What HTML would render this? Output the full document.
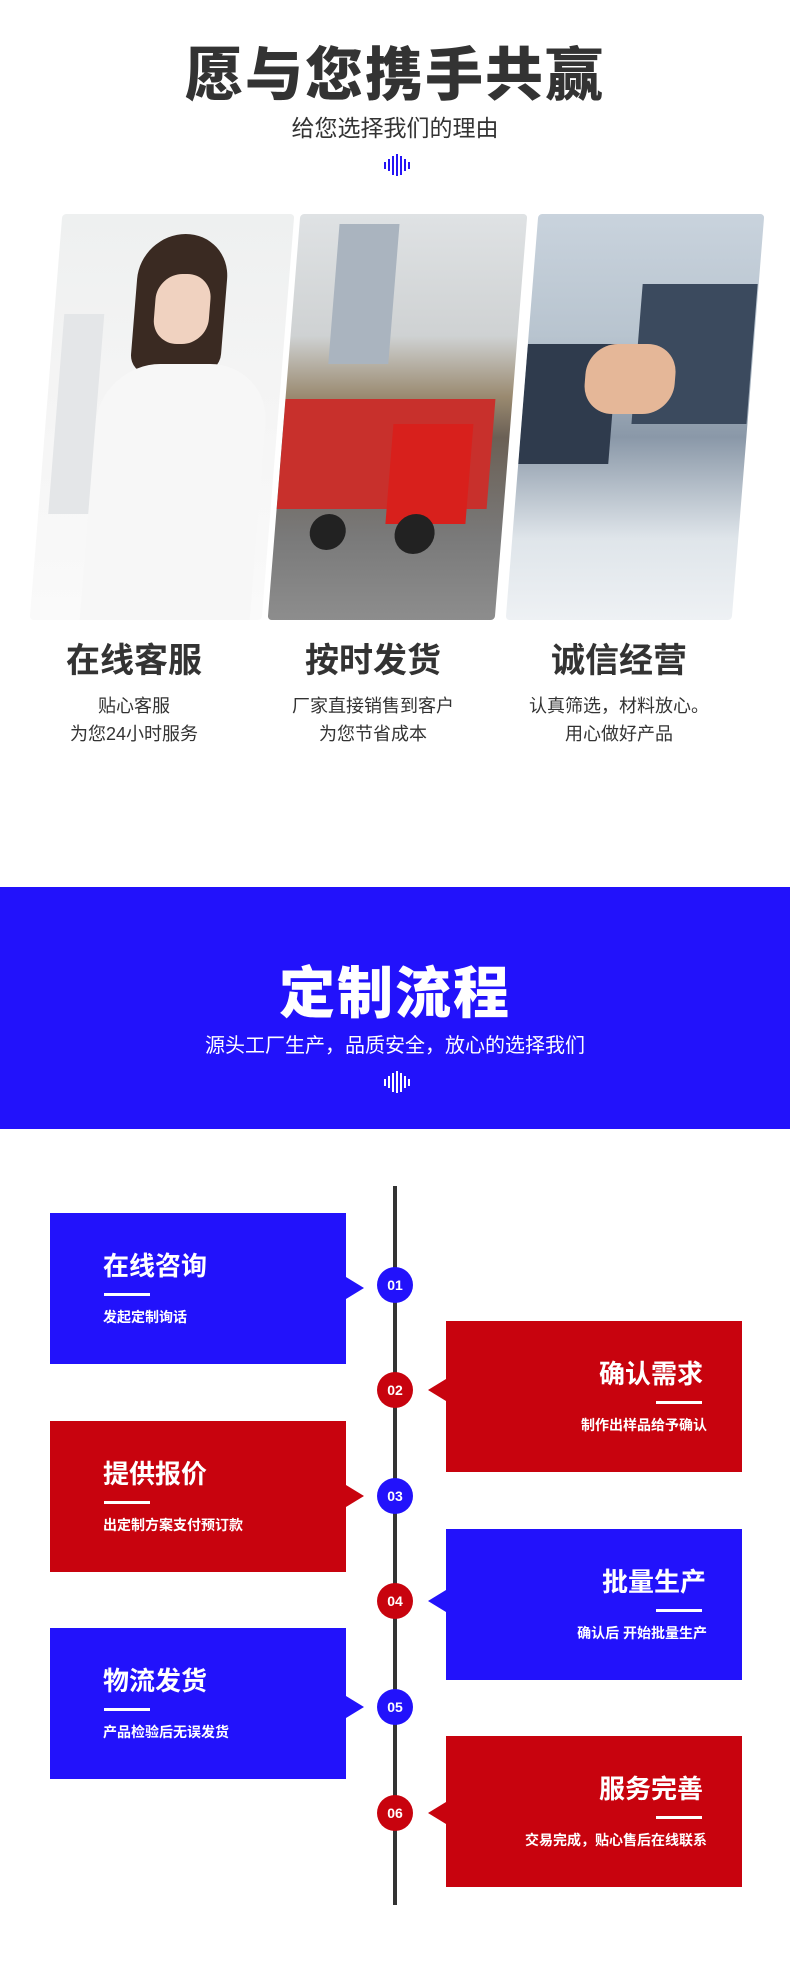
<!DOCTYPE html>
<html><head><meta charset="utf-8"><style>
*{margin:0;padding:0;box-sizing:border-box}
body{width:790px;height:1986px;background:#fff;position:relative;overflow:hidden;font-family:"Liberation Sans","Noto Sans CJK SC",sans-serif}
.a{position:absolute}
.c{text-align:center;white-space:nowrap}
.wave span{position:absolute;width:2px;background:#2515f5}
.img{position:absolute;top:214px;height:406px;transform:skewX(-4.6deg);overflow:hidden;border-radius:4px}
.box{position:absolute;width:296px;height:151px}
.blue{background:#2212fb}.red{background:#c8030e}
.bt{position:absolute;color:#fff;font-weight:bold;font-size:26px;white-space:nowrap;line-height:30px}
.bs{position:absolute;color:#fff;font-weight:bold;font-size:14px;white-space:nowrap;line-height:18px}
.ul{position:absolute;height:3px;width:46px;background:#fff}
.tri{position:absolute;width:0;height:0;border-top:11px solid transparent;border-bottom:11px solid transparent}
.dot{position:absolute;left:377px;width:36px;height:36px;border-radius:50%;color:#fff;font-weight:bold;font-size:14px;line-height:36px;text-align:center}
</style></head><body>
<div class="a c" style="left:0;width:790px;top:44px;font-size:58px;font-weight:900;color:#333;line-height:64px;letter-spacing:2px">愿与您携手共赢</div>
<div class="a c" style="left:0;width:790px;top:114px;font-size:23px;color:#333;line-height:28px">给您选择我们的理由</div>
<div class="wave">
<span style="left:384px;top:162px;height:7px"></span><span style="left:388px;top:159px;height:12px"></span><span style="left:392px;top:156px;height:19px"></span><span style="left:396px;top:154px;height:22px"></span><span style="left:400px;top:156px;height:19px"></span><span style="left:404px;top:159px;height:12px"></span><span style="left:408px;top:162px;height:7px"></span>
</div>
<div class="img" style="left:46px;width:232px;background:linear-gradient(180deg,#eef0f0,#f4f4f4 40%,#fafafa)">
 <div class="a" style="left:80px;top:20px;width:90px;height:140px;border-radius:45px 45px 20px 20px;background:#3a2a22"></div>
 <div class="a" style="left:100px;top:60px;width:55px;height:70px;border-radius:25px;background:#f0d2c0"></div>
 <div class="a" style="left:50px;top:150px;width:170px;height:256px;border-radius:60px 60px 0 0;background:#f7f7f7"></div>
 <div class="a" style="left:10px;top:100px;width:40px;height:200px;background:#e4e6e8"></div>
</div>
<div class="img" style="left:284px;width:227px;background:linear-gradient(180deg,#dfe2e4,#cfd2d3 30%,#9a8a70 45%,#6b6055 55%,#7a7a7a 80%,#8d8d8d)">
 <div class="a" style="left:40px;top:10px;width:60px;height:140px;background:#aab4bf"></div>
 <div class="a" style="left:0;top:185px;width:210px;height:110px;background:#c8302c"></div>
 <div class="a" style="left:110px;top:210px;width:80px;height:100px;background:#d8201c"></div>
 <div class="a" style="left:120px;top:300px;width:40px;height:40px;border-radius:50%;background:#222"></div>
 <div class="a" style="left:35px;top:300px;width:36px;height:36px;border-radius:50%;background:#222"></div>
</div>
<div class="img" style="left:522px;width:226px;background:linear-gradient(180deg,#c9d3dd,#b8c4cf 30%,#8a98a8 55%,#dfe5ea 80%,#eef1f4)">
 <div class="a" style="left:110px;top:70px;width:115px;height:140px;background:#3b4a5e"></div>
 <div class="a" style="left:0;top:130px;width:90px;height:120px;background:#2f3b4d"></div>
 <div class="a" style="left:60px;top:130px;width:90px;height:70px;border-radius:30px;background:#e5b798"></div>
</div>
<div class="a c" style="left:34px;width:200px;top:642px;font-size:34px;font-weight:bold;color:#333;line-height:38px">在线客服</div>
<div class="a c" style="left:34px;width:200px;top:692px;font-size:18px;color:#333;line-height:28px">贴心客服<br>为您24小时服务</div>
<div class="a c" style="left:243px;width:260px;top:642px;font-size:34px;font-weight:bold;color:#333;line-height:38px">按时发货</div>
<div class="a c" style="left:243px;width:260px;top:692px;font-size:18px;color:#333;line-height:28px">厂家直接销售到客户<br>为您节省成本</div>
<div class="a c" style="left:489px;width:260px;top:642px;font-size:34px;font-weight:bold;color:#333;line-height:38px">诚信经营</div>
<div class="a c" style="left:489px;width:260px;top:692px;font-size:18px;color:#333;line-height:28px">认真筛选，材料放心。<br>用心做好产品</div>

<div class="a" style="left:0;top:887px;width:790px;height:242px;background:#2212fb"></div>
<div class="a c" style="left:0;width:790px;top:962px;font-size:56px;font-weight:900;color:#fff;line-height:64px;letter-spacing:2px">定制流程</div>
<div class="a c" style="left:0;width:790px;top:1033px;font-size:20px;color:#fff;line-height:26px">源头工厂生产，品质安全，放心的选择我们</div>
<div class="wave">
<span style="left:384px;top:1079px;height:7px;background:#fff"></span><span style="left:388px;top:1076px;height:12px;background:#fff"></span><span style="left:392px;top:1073px;height:19px;background:#fff"></span><span style="left:396px;top:1071px;height:22px;background:#fff"></span><span style="left:400px;top:1073px;height:19px;background:#fff"></span><span style="left:404px;top:1076px;height:12px;background:#fff"></span><span style="left:408px;top:1079px;height:7px;background:#fff"></span>
</div>

<div class="a" style="left:393px;top:1186px;width:4px;height:719px;background:#333"></div>

<div class="box blue" style="left:50px;top:1213px"></div>
<div class="tri" style="left:346px;top:1277px;border-left:18px solid #2212fb"></div>
<div class="bt" style="left:103px;top:1251px">在线咨询</div><div class="ul" style="left:104px;top:1293px"></div><div class="bs" style="left:103px;top:1308px">发起定制询话</div>

<div class="box red" style="left:50px;top:1421px"></div>
<div class="tri" style="left:346px;top:1485px;border-left:18px solid #c8030e"></div>
<div class="bt" style="left:103px;top:1459px">提供报价</div><div class="ul" style="left:104px;top:1501px"></div><div class="bs" style="left:103px;top:1516px">出定制方案支付预订款</div>

<div class="box blue" style="left:50px;top:1628px"></div>
<div class="tri" style="left:346px;top:1696px;border-left:18px solid #2212fb"></div>
<div class="bt" style="left:103px;top:1666px">物流发货</div><div class="ul" style="left:104px;top:1708px"></div><div class="bs" style="left:103px;top:1723px">产品检验后无误发货</div>

<div class="box red" style="left:446px;top:1321px"></div>
<div class="tri" style="left:428px;top:1379px;border-right:18px solid #c8030e"></div>
<div class="bt" style="right:87px;top:1359px">确认需求</div><div class="ul" style="left:656px;top:1401px"></div><div class="bs" style="right:83px;top:1416px">制作出样品给予确认</div>

<div class="box blue" style="left:446px;top:1529px"></div>
<div class="tri" style="left:428px;top:1590px;border-right:18px solid #2212fb"></div>
<div class="bt" style="right:84px;top:1567px">批量生产</div><div class="ul" style="left:656px;top:1609px"></div><div class="bs" style="right:83px;top:1624px">确认后 开始批量生产</div>

<div class="box red" style="left:446px;top:1736px"></div>
<div class="tri" style="left:428px;top:1802px;border-right:18px solid #c8030e"></div>
<div class="bt" style="right:87px;top:1774px">服务完善</div><div class="ul" style="left:656px;top:1816px"></div><div class="bs" style="right:83px;top:1831px">交易完成，贴心售后在线联系</div>

<div class="dot blue" style="top:1267px">01</div>
<div class="dot red" style="top:1372px">02</div>
<div class="dot blue" style="top:1478px">03</div>
<div class="dot red" style="top:1583px">04</div>
<div class="dot blue" style="top:1689px">05</div>
<div class="dot red" style="top:1795px">06</div>
</body></html>
